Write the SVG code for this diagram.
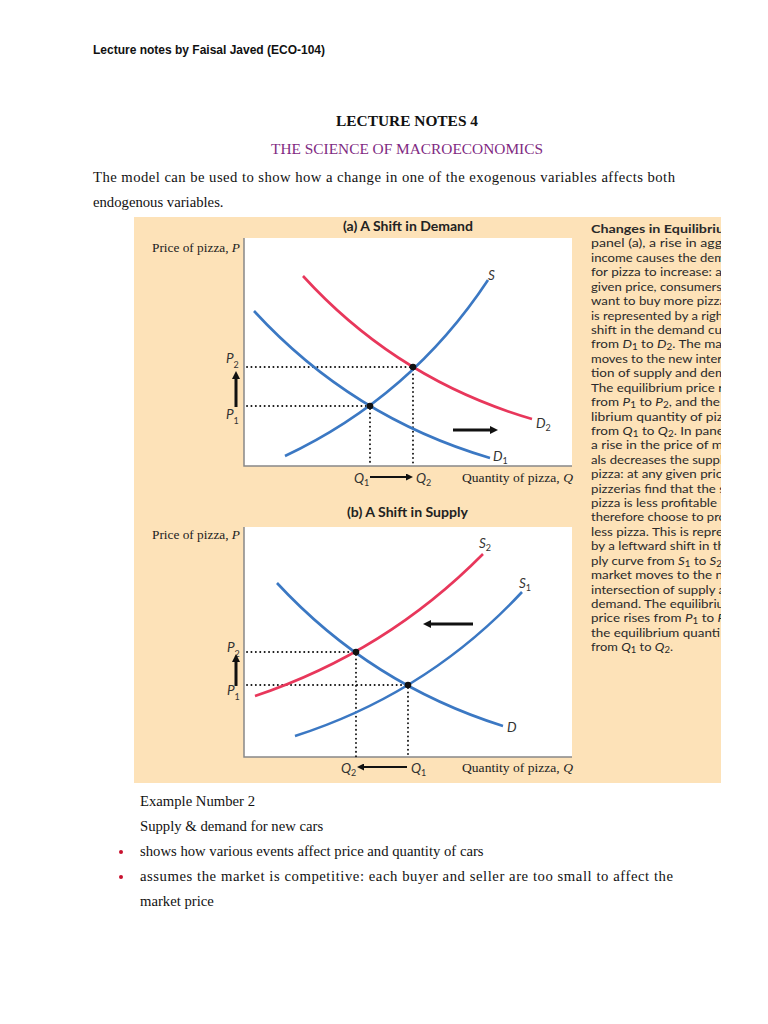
<svg xmlns="http://www.w3.org/2000/svg" width="768" height="1024" viewBox="0 0 768 1024">
<style>
.tnr{font-family:"Liberation Serif","Times New Roman",serif;font-size:14.7px;fill:#111}
.hdr{font-family:"Liberation Sans",Arial,sans-serif;font-weight:bold;font-size:12.5px;fill:#111}
.ttl{font-family:Lato,"Open Sans",sans-serif;font-weight:bold;font-size:12.5px;fill:#222}
.ax{font-family:"Liberation Serif",serif;font-size:11.5px;fill:#222}
.lab{font-family:Lato,"Open Sans",sans-serif;font-style:italic;font-size:13.5px;fill:#333}
.sub{font-size:9px;font-style:normal}
.cap{font-family:Lato,"Open Sans",sans-serif;font-size:12.2px;fill:#2a2a2a}
.blue{fill:none;stroke:#3b78c3;stroke-width:2.6}
.red{fill:none;stroke:#e8375b;stroke-width:2.6}
.dot{fill:none;stroke:#111;stroke-width:1.9;stroke-linecap:round;stroke-dasharray:0.1 4.3}
.axis{fill:none;stroke:#888;stroke-width:1.5}
.arr{fill:none;stroke:#111;stroke-width:3}
.arrs{fill:none;stroke:#111;stroke-width:2.2}
</style>
<defs>
<marker id="ah" viewBox="0 0 10 10" refX="2" refY="5" markerWidth="8" markerHeight="8" markerUnits="userSpaceOnUse" orient="auto"><path d="M0,0 L10,5 L0,10 z" fill="#111"/></marker>
<marker id="ahs" viewBox="0 0 10 10" refX="2" refY="5" markerWidth="7" markerHeight="7" markerUnits="userSpaceOnUse" orient="auto"><path d="M0,0 L10,5 L0,10 z" fill="#111"/></marker>
<clipPath id="capclip"><rect x="585" y="217" width="136" height="566"/></clipPath>
</defs>
<rect width="768" height="1024" fill="#fff"/>

<g id="header">
<text class="hdr" x="93" y="54" textLength="232" lengthAdjust="spacingAndGlyphs">Lecture notes by Faisal Javed (ECO-104)</text>
<text class="tnr" x="336" y="126" font-weight="bold" textLength="142" lengthAdjust="spacingAndGlyphs">LECTURE NOTES 4</text>
<text class="tnr" x="271" y="154" style="fill:#7f2a82" textLength="272" lengthAdjust="spacingAndGlyphs">THE SCIENCE OF MACROECONOMICS</text>
<text class="tnr" x="93" y="182" textLength="582" lengthAdjust="spacing">The model can be used to show how a change in one of the exogenous variables affects both</text>
<text class="tnr" x="93" y="207">endogenous variables.</text>
</g>

<g id="figure">
<rect x="134" y="217" width="587" height="566" fill="#fde2b8"/>

<g id="panel-a">
<rect x="244" y="238" width="328" height="228" fill="#fff"/>
<path class="axis" d="M244,238 V466 H572"/>
<text class="ttl" x="343" y="231" textLength="130" lengthAdjust="spacingAndGlyphs">(a) A Shift in Demand</text>
<text class="ax" x="152" y="252" textLength="88" lengthAdjust="spacingAndGlyphs">Price of pizza, <tspan font-style="italic">P</tspan></text>
<text class="ax" x="462" y="482" textLength="111" lengthAdjust="spacingAndGlyphs">Quantity of pizza, <tspan font-style="italic">Q</tspan></text>
<path class="dot" d="M247,406 H368 M247,367 H411 M370,409 V466 M413,370 V466"/>
<path class="red" d="M303,276 Q397.5,379.6 532,419"/>
<path class="blue" d="M285,456 Q411,396.5 488,280"/>
<path class="blue" d="M254,311 Q351.6,417.3 490,458"/>
<circle cx="370" cy="406" r="3.3" fill="#111"/>
<circle cx="413" cy="367" r="3.3" fill="#111"/>
<text class="lab" x="488" y="280">S</text>
<text class="lab" x="536" y="428">D<tspan class="sub" dy="3">2</tspan></text>
<text class="lab" x="493" y="461">D<tspan class="sub" dy="3">1</tspan></text>
<text class="lab" x="226" y="363">P<tspan class="sub" dy="5">2</tspan></text>
<text class="lab" x="226" y="419">P<tspan class="sub" dy="5">1</tspan></text>
<text class="lab" x="354" y="483">Q<tspan class="sub" dy="3">1</tspan></text>
<text class="lab" x="416" y="483">Q<tspan class="sub" dy="3">2</tspan></text>
<line class="arr" x1="236" y1="407" x2="236" y2="377.4" marker-end="url(#ah)"/>
<line class="arr" x1="453" y1="430" x2="491.6" y2="430" marker-end="url(#ah)"/>
<line class="arrs" x1="370" y1="477" x2="407.4" y2="477" marker-end="url(#ahs)"/>
</g>

<g id="panel-b">
<rect x="244" y="527" width="328" height="230" fill="#fff"/>
<path class="axis" d="M244,527 V757 H572"/>
<text class="ttl" x="347" y="517" textLength="121" lengthAdjust="spacingAndGlyphs">(b) A Shift in Supply</text>
<text class="ax" x="152" y="539" textLength="88" lengthAdjust="spacingAndGlyphs">Price of pizza, <tspan font-style="italic">P</tspan></text>
<text class="ax" x="462" y="772" textLength="111" lengthAdjust="spacingAndGlyphs">Quantity of pizza, <tspan font-style="italic">Q</tspan></text>
<path class="dot" d="M247,652 H354 M247,685 H406 M356,655 V757 M408,688 V757"/>
<path class="red" d="M255,696 Q385.9,652.2 483,554"/>
<path class="blue" d="M295,736 Q427.3,693.6 522,592"/>
<path class="blue" d="M277,583 Q371,684.5 503,726"/>
<circle cx="356" cy="652" r="3.3" fill="#111"/>
<circle cx="408" cy="685" r="3.3" fill="#111"/>
<text class="lab" x="479" y="548">S<tspan class="sub" dy="3">2</tspan></text>
<text class="lab" x="519" y="588">S<tspan class="sub" dy="3">1</tspan></text>
<text class="lab" x="507" y="732">D</text>
<text class="lab" x="227" y="652">P<tspan class="sub" dy="5">2</tspan></text>
<text class="lab" x="227" y="695">P<tspan class="sub" dy="5">1</tspan></text>
<text class="lab" x="341" y="773">Q<tspan class="sub" dy="3">2</tspan></text>
<text class="lab" x="411" y="773">Q<tspan class="sub" dy="3">1</tspan></text>
<line class="arr" x1="236" y1="686" x2="236" y2="660.4" marker-end="url(#ah)"/>
<line class="arr" x1="473" y1="624" x2="429.4" y2="624" marker-end="url(#ah)"/>
<line class="arrs" x1="407" y1="767" x2="362.6" y2="767" marker-end="url(#ahs)"/>
</g>

<g id="caption" clip-path="url(#capclip)">
<text class="cap" x="591" y="233" font-weight="bold" textLength="133" lengthAdjust="spacingAndGlyphs">Changes in Equilibriu</text>
<text class="cap" x="591" y="247.4" textLength="131" lengthAdjust="spacingAndGlyphs">panel (a), a rise in agg</text>
<text class="cap" x="591" y="261.8" textLength="134" lengthAdjust="spacingAndGlyphs">income causes the dem</text>
<text class="cap" x="591" y="276.3" textLength="131" lengthAdjust="spacingAndGlyphs">for pizza to increase: a</text>
<text class="cap" x="591" y="290.7" textLength="131" lengthAdjust="spacingAndGlyphs">given price, consumers</text>
<text class="cap" x="591" y="305.1" textLength="135" lengthAdjust="spacingAndGlyphs">want to buy more pizza</text>
<text class="cap" x="591" y="319.5" textLength="132" lengthAdjust="spacingAndGlyphs">is represented by a righ</text>
<text class="cap" x="591" y="333.9" textLength="131" lengthAdjust="spacingAndGlyphs">shift in the demand cu</text>
<text class="cap" x="591" y="348.4" textLength="131" lengthAdjust="spacingAndGlyphs">from <tspan font-style="italic">D</tspan><tspan class="sub" dy="2">1</tspan><tspan dy="-2"> to </tspan><tspan font-style="italic">D</tspan><tspan class="sub" dy="2">2</tspan><tspan dy="-2">. The ma</tspan></text>
<text class="cap" x="591" y="362.8" textLength="131" lengthAdjust="spacingAndGlyphs">moves to the new inter</text>
<text class="cap" x="591" y="377.2" textLength="135" lengthAdjust="spacingAndGlyphs">tion of supply and dem</text>
<text class="cap" x="591" y="391.6" textLength="132" lengthAdjust="spacingAndGlyphs">The equilibrium price r</text>
<text class="cap" x="591" y="406" textLength="129" lengthAdjust="spacingAndGlyphs">from <tspan font-style="italic">P</tspan><tspan class="sub" dy="2">1</tspan><tspan dy="-2"> to </tspan><tspan font-style="italic">P</tspan><tspan class="sub" dy="2">2</tspan><tspan dy="-2">, and the</tspan></text>
<text class="cap" x="591" y="420.5" textLength="132" lengthAdjust="spacingAndGlyphs">librium quantity of piz</text>
<text class="cap" x="591" y="434.9" textLength="133" lengthAdjust="spacingAndGlyphs">from <tspan font-style="italic">Q</tspan><tspan class="sub" dy="2">1</tspan><tspan dy="-2"> to </tspan><tspan font-style="italic">Q</tspan><tspan class="sub" dy="2">2</tspan><tspan dy="-2">. In pane</tspan></text>
<text class="cap" x="591" y="449.3" textLength="132" lengthAdjust="spacingAndGlyphs">a rise in the price of m</text>
<text class="cap" x="591" y="463.7" textLength="132" lengthAdjust="spacingAndGlyphs">als decreases the suppl</text>
<text class="cap" x="591" y="478.1" textLength="131" lengthAdjust="spacingAndGlyphs">pizza: at any given pric</text>
<text class="cap" x="591" y="492.6" textLength="134" lengthAdjust="spacingAndGlyphs">pizzerias find that the s</text>
<text class="cap" x="591" y="507" textLength="126" lengthAdjust="spacingAndGlyphs">pizza is less profitable</text>
<text class="cap" x="591" y="521.4" textLength="135" lengthAdjust="spacingAndGlyphs">therefore choose to pro</text>
<text class="cap" x="591" y="535.8" textLength="132" lengthAdjust="spacingAndGlyphs">less pizza. This is repre</text>
<text class="cap" x="591" y="550.2" textLength="134" lengthAdjust="spacingAndGlyphs">by a leftward shift in th</text>
<text class="cap" x="591" y="564.7" textLength="131" lengthAdjust="spacingAndGlyphs">ply curve from <tspan font-style="italic">S</tspan><tspan class="sub" dy="2">1</tspan><tspan dy="-2"> to </tspan><tspan font-style="italic">S</tspan><tspan class="sub" dy="2">2</tspan></text>
<text class="cap" x="591" y="579.1" textLength="132" lengthAdjust="spacingAndGlyphs">market moves to the n</text>
<text class="cap" x="591" y="593.5" textLength="134" lengthAdjust="spacingAndGlyphs">intersection of supply a</text>
<text class="cap" x="591" y="607.9" textLength="133" lengthAdjust="spacingAndGlyphs">demand. The equilibriu</text>
<text class="cap" x="591" y="622.3" textLength="134" lengthAdjust="spacingAndGlyphs">price rises from <tspan font-style="italic">P</tspan><tspan class="sub" dy="2">1</tspan><tspan dy="-2"> to </tspan><tspan font-style="italic">P</tspan></text>
<text class="cap" x="591" y="636.8" textLength="129" lengthAdjust="spacingAndGlyphs">the equilibrium quanti</text>
<text class="cap" x="591" y="651.2" textLength="82" lengthAdjust="spacingAndGlyphs">from <tspan font-style="italic">Q</tspan><tspan class="sub" dy="2">1</tspan><tspan dy="-2"> to </tspan><tspan font-style="italic">Q</tspan><tspan class="sub" dy="2">2</tspan><tspan dy="-2">.</tspan></text>
</g>
</g>

<g id="body">
<text class="tnr" x="140" y="806">Example Number 2</text>
<text class="tnr" x="140" y="831">Supply &amp; demand for new cars</text>
<circle cx="121" cy="852" r="2" fill="#c8102e"/>
<text class="tnr" x="140" y="856">shows how various events affect price and quantity of cars</text>
<circle cx="121" cy="877" r="2" fill="#c8102e"/>
<text class="tnr" x="140" y="881" textLength="533" lengthAdjust="spacing">assumes the market is competitive: each buyer and seller are too small to affect the</text>
<text class="tnr" x="140" y="906">market price</text>
</g>
</svg>
